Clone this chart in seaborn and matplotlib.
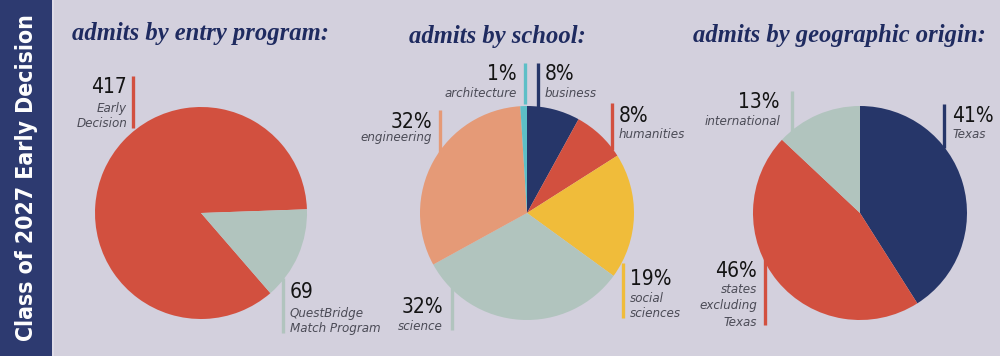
import matplotlib
matplotlib.use("Agg")
import matplotlib.pyplot as plt
import seaborn as sns
from matplotlib.patches import Rectangle

# ---------------- data ----------------
entry_labels = ["Early\nDecision", "QuestBridge\nMatch Program"]
entry_counts = [417, 69]

school_labels = ["business", "humanities", "social\nsciences", "science", "engineering", "architecture"]
school_pct = [8, 8, 19, 32, 32, 1]

geo_labels = ["Texas", "states\nexcluding\nTexas", "international"]
geo_pct = [41, 46, 13]

titles = ["admits by entry program:", "admits by school:", "admits by geographic origin:"]
side_title = "Class of 2027 Early Decision"

# ---------------- style ----------------
sns.set_style("white")
NAVY = "#263669"
RED = "#d2503f"
SAGE = "#b1c4be"
PEACH = "#e59a77"
YELLOW = "#f0bc3a"
LBLUE = "#5dbfc7"
BG = "#d3d0dd"
SIDE = "#2d3a70"
TITLE_C = "#1f2b60"
NUM_C = "#141414"
LAB_C = "#4b4b56"

entry_colors = sns.color_palette([RED, SAGE])
school_colors = sns.color_palette([NAVY, RED, YELLOW, SAGE, PEACH, LBLUE])
geo_colors = sns.color_palette([NAVY, RED, SAGE])

NUM_FONT = ["DejaVu Sans"]
TITLE_FONT = ["Liberation Serif", "DejaVu Serif"]

H = 356
def Y(y):
    return H - y

fig = plt.figure(figsize=(10, 3.56), dpi=100, facecolor=BG)
ax = fig.add_axes([0, 0, 1, 1])
ax.set_facecolor(BG)

# ---------------- pies ----------------
pies = [
    (entry_counts, entry_colors, (201, 213), 106, 2, True),
    (school_pct, school_colors, (527, 213), 107, 90, False),
    (geo_pct, geo_colors, (860, 213), 107, 90, False),
]
for vals, cols, (cx, cy), r, start, ccw in pies:
    ax.pie(vals, colors=cols, startangle=start, counterclock=ccw,
           center=(cx, Y(cy)), radius=r, frame=True,
           wedgeprops=dict(linewidth=0))

# ---------------- annotations ----------------
# (number text, label text, color, line_x, line_top, line_bot, side, text_x, num_baseline, label_baseline, pitch)
annots = [
    (str(entry_counts[0]), entry_labels[0], RED, 133, 76, 128, "left", 127, 93, 112, 15),
    (str(entry_counts[1]), entry_labels[1], SAGE, 283, 278, 333, "right", 290, 298, 317, 15),
    (f"{school_pct[5]}%", school_labels[5], LBLUE, 525, 63, 104, "left", 517, 80, 97, 15),
    (f"{school_pct[0]}%", school_labels[0], NAVY, 538, 63, 108, "right", 545, 80, 97, 15),
    (f"{school_pct[1]}%", school_labels[1], RED, 612, 103, 150, "right", 619, 122, 138, 15),
    (f"{school_pct[4]}%", school_labels[4], PEACH, 440, 110, 153, "left", 432, 128, 141, 15),
    (f"{school_pct[2]}%", school_labels[2], YELLOW, 623, 263, 318, "right", 630, 285, 302, 15),
    (f"{school_pct[3]}%", school_labels[3], SAGE, 452, 287, 330, "left", 443, 313, 330, 15),
    (f"{geo_pct[2]}%", geo_labels[2], SAGE, 792, 91, 132, "left", 780, 108, 125, 15),
    (f"{geo_pct[0]}%", geo_labels[0], NAVY, 944, 104, 148, "right", 952, 122, 138, 15),
    (f"{geo_pct[1]}%", geo_labels[1], RED, 765, 257, 325, "left", 757, 277, 293, 16.5),
]
for num, lab, col, lx, lt, lb, side, tx, nb, lbase, pitch in annots:
    ax.plot([lx, lx], [Y(lt), Y(lb)], color=col, lw=2.4, solid_capstyle="butt")
    ha = "right" if side == "left" else "left"
    ax.text(tx, Y(nb), num, ha=ha, va="baseline", fontsize=15,
            family=NUM_FONT, fontstretch="condensed", weight="light", color=NUM_C)
    for i, line in enumerate(lab.split("\n")):
        ax.text(tx, Y(lbase + i * pitch), line, ha=ha, va="baseline", fontsize=9.5,
                family=NUM_FONT, fontstretch="condensed", style="italic",
                weight="light", color=LAB_C)

# ---------------- titles ----------------
for (x, yb), t in zip([(200, 40), (497, 43), (839, 42)], titles):
    ax.text(x, Y(yb), t, ha="center", va="baseline", fontsize=17.7,
            family=TITLE_FONT, weight="bold", style="italic", color=TITLE_C)

# ---------------- sidebar ----------------
ax.add_patch(Rectangle((0, 0), 52, H, facecolor=SIDE, edgecolor="none", zorder=3))
ax.add_patch(Rectangle((52, 0), 2, H, facecolor="#dedbe7", edgecolor="none", zorder=3))
ax.text(27, Y(178), side_title, rotation=90, ha="center", va="center",
        fontsize=16.5, family=NUM_FONT, fontstretch="condensed", weight="bold",
        color="white", zorder=4)

ax.set_xlim(0, 1000)
ax.set_ylim(0, H)
ax.set_aspect("auto")
ax.axis("off")

fig.savefig("out.png", dpi=100, facecolor=BG)
